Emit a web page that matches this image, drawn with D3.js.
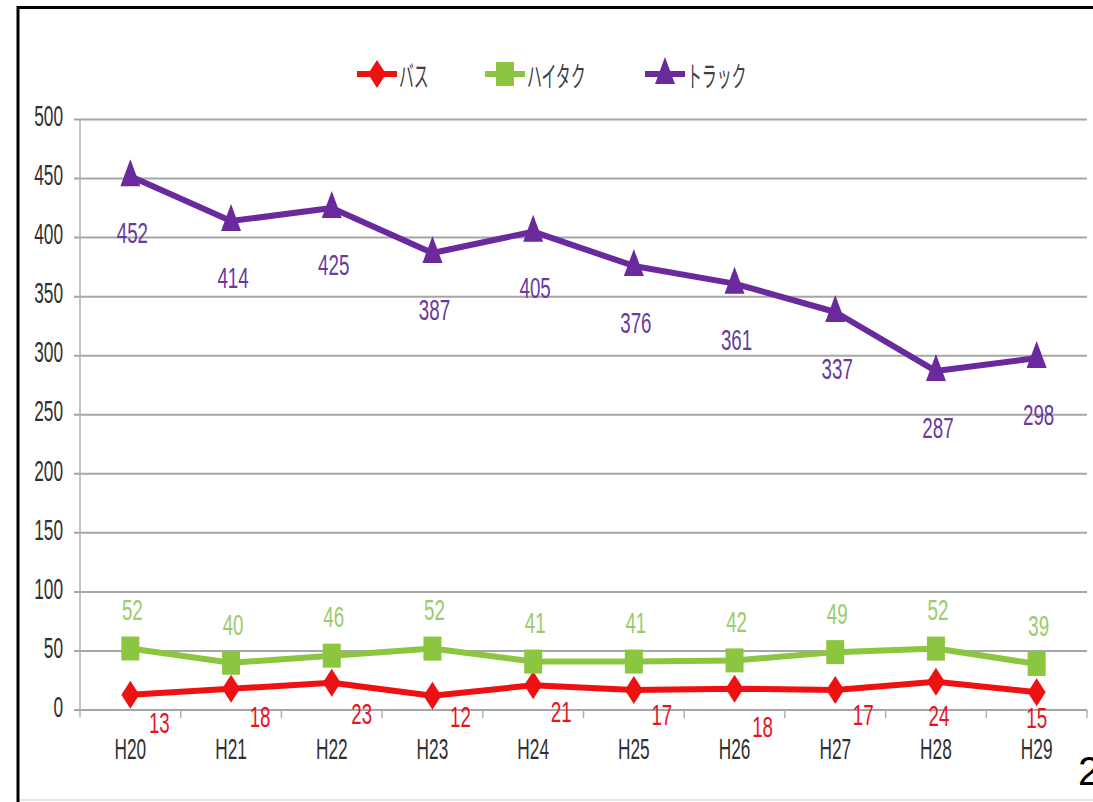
<!DOCTYPE html>
<html><head><meta charset="utf-8">
<script src="https://cdn.jsdelivr.net/npm/d3@7"></script>
<style>html,body{margin:0;padding:0;background:#fff;}svg{display:block;}</style>
</head><body>
<svg id="c" width="1093" height="802"></svg>
<script>
const categories = ["H20","H21","H22","H23","H24","H25","H26","H27","H28","H29"];
const bus   = [13,18,23,12,21,17,18,17,24,15];
const taxi  = [52,40,46,52,41,41,42,49,52,39];
const truck = [452,414,425,387,405,376,361,337,287,298];
const seriesNames = ["バス","ハイタク","トラック"];
const yTicks = [0,50,100,150,200,250,300,350,400,450,500];

const W = 1093, H = 802;
const m = {left: 80, right: 1087, top: 119.5, bottom: 710};
const svg = d3.select("#c");
const numFont = "'Liberation Sans', Arial, sans-serif";
const jpFont = "'Noto Sans CJK JP', sans-serif";

// frame
svg.append("rect").attr("x",0).attr("y",0).attr("width",W).attr("height",H).attr("fill","#fff");
svg.append("line").attr("x1",18).attr("x2",18).attr("y1",6).attr("y2",H).attr("stroke","#000").attr("stroke-width",3);
svg.append("line").attr("x1",17).attr("x2",W).attr("y1",7.5).attr("y2",7.5).attr("stroke","#000").attr("stroke-width",3);
svg.append("line").attr("x1",20).attr("x2",W).attr("y1",800).attr("y2",800).attr("stroke","#e4e4e4").attr("stroke-width",2);

const x = d3.scaleBand().domain(categories).range([m.left, m.right]);
const y = d3.scaleLinear().domain([0,500]).range([m.bottom, m.top]);
const cx = d => x(d) + x.bandwidth()/2;

function stxt(g, tx, ty, txt, size, fill, anchor, font, sx, sy){
  return g.append("text")
    .attr("transform", `translate(${tx},${ty}) scale(${sx||0.72},${sy||1.2})`)
    .attr("text-anchor", anchor||"middle")
    .attr("dominant-baseline","central")
    .attr("font-family", font||numFont)
    .attr("font-size", size).attr("fill", fill).text(txt);
}

// gridlines
const gAxis = svg.append("g");
gAxis.selectAll("line.grid").data(yTicks).join("line")
  .attr("x1", m.left-6).attr("x2", m.right)
  .attr("y1", d=>y(d)).attr("y2", d=>y(d))
  .attr("stroke","#a6a6a6").attr("stroke-width",2);
gAxis.append("line").attr("x1",m.left).attr("x2",m.left).attr("y1",m.top).attr("y2",m.bottom+7)
  .attr("stroke","#b0b0b0").attr("stroke-width",1.5);
const edges = categories.map(c=>x(c)).concat([m.right]);
gAxis.selectAll("line.xt").data(edges.slice(1)).join("line")
  .attr("x1",d=>d).attr("x2",d=>d).attr("y1",m.bottom).attr("y2",m.bottom+8)
  .attr("stroke","#b0b0b0").attr("stroke-width",1.5);
yTicks.forEach(t => stxt(gAxis, 63, y(t)-3, String(t), 24, "#303030", "end"));
categories.forEach(c => stxt(gAxis, cx(c), 749, c, 24, "#303030", "middle"));

// series
const colors = {bus:"#ee1111", taxi:"#8cc540", truck:"#6a2a9e"};
const labelColors = {bus:"#e8141b", taxi:"#9acb6c", truck:"#6a3a9e"};
const line = d3.line().x((d,i)=>cx(categories[i])).y(d=>y(d));

function marker(g, shape, px, py, col){
  let p;
  if(shape==="diamond") p = `M${px},${py-14} L${px+9},${py} L${px},${py+14} L${px-9},${py} Z`;
  else if(shape==="square") p = `M${px-9},${py-12} h18 v24 h-18 Z`;
  else p = `M${px},${py-17} L${px+10},${py+10} L${px-10},${py+10} Z`;
  g.append("path").attr("d",p).attr("fill",col);
}

const series = [
  {key:"bus", vals:bus, shape:"diamond"},
  {key:"taxi", vals:taxi, shape:"square"},
  {key:"truck", vals:truck, shape:"triangle"}
];
series.forEach(s=>{
  const g = svg.append("g");
  g.append("path").datum(s.vals).attr("d", line).attr("fill","none")
    .attr("stroke", colors[s.key]).attr("stroke-width",6).attr("stroke-linejoin","round");
  s.vals.forEach((v,i)=> marker(g, s.shape, cx(categories[i]), y(v), colors[s.key]));
});

// data labels
const busShift = [[29,28],[29,27],[30,30],[28,20],[28,26],[28,24],[28,37],[28,24],[3,34],[0,25]];
bus.forEach((v,i)=> stxt(svg, cx(categories[i])+busShift[i][0], y(v)+busShift[i][1], String(v), 25, labelColors.bus, "middle", numFont, 0.75, 1.2));
taxi.forEach((v,i)=> stxt(svg, cx(categories[i])+2, y(v)-39, String(v), 25, labelColors.taxi, "middle", numFont, 0.75, 1.2));
truck.forEach((v,i)=> stxt(svg, cx(categories[i])+2, y(truck[i])+56, String(v), 25, labelColors.truck, "middle", numFont, 0.75, 1.2));

// legend
const leg = svg.append("g");
const legItems = [
  {x:357, key:"bus", shape:"diamond", name:seriesNames[0]},
  {x:485, key:"taxi", shape:"square", name:seriesNames[1]},
  {x:645, key:"truck", shape:"triangle", name:seriesNames[2]}
];
legItems.forEach(it=>{
  leg.append("line").attr("x1",it.x).attr("x2",it.x+40).attr("y1",74).attr("y2",74)
    .attr("stroke",colors[it.key]).attr("stroke-width",6);
  marker(leg, it.shape, it.x+20, 74, colors[it.key]);
  stxt(leg, it.x+42, 74, it.name, 24, "#404040", "start", jpFont, 0.62, 1.2);
});

// page number fragment
svg.append("text").attr("x",1078).attr("y",785).attr("font-family","'Liberation Sans', Arial, sans-serif")
  .attr("font-size",40).attr("fill","#000").text("2");
</script>
</body></html>
